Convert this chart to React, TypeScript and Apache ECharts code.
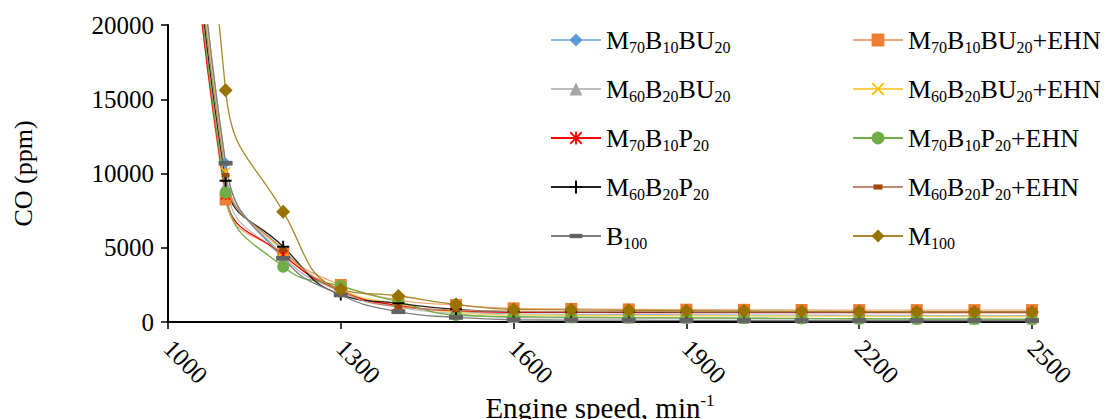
import React, { useEffect, useRef } from 'react';
import * as echarts from 'echarts';

const SPEED = [1000, 1100, 1200, 1300, 1400, 1500, 1600, 1700, 1800, 1900, 2000, 2100, 2200, 2300, 2400, 2500];
const M70B10BU20 = [58000, 10700, 4450, 2150, 1100, 700, 540, 520, 500, 480, 470, 460, 450, 440, 430, 430];
const M70B10BU20_EHN = [54000, 8250, 4600, 2490, 1480, 1140, 920, 880, 850, 830, 820, 810, 800, 800, 800, 800];
const M60B20BU20 = [56000, 9230, 4350, 2050, 1000, 560, 300, 280, 260, 250, 240, 230, 220, 210, 200, 200];
const M60B20BU20_EHN = [58000, 10100, 4730, 2200, 1200, 650, 470, 450, 430, 420, 410, 400, 390, 380, 370, 370];
const M70B10P20 = [53000, 8550, 4510, 2100, 1100, 760, 650, 650, 640, 640, 640, 630, 630, 630, 630, 630];
const M70B10P20_EHN = [54000, 8710, 3720, 2420, 1370, 470, 360, 320, 300, 280, 260, 240, 220, 200, 190, 180];
const M60B20P20 = [55000, 9510, 5070, 1850, 1260, 855, 700, 690, 680, 670, 670, 670, 670, 670, 670, 670];
const M60B20P20_EHN = [56000, 9900, 4850, 2100, 1030, 800, 720, 700, 700, 690, 690, 690, 680, 680, 680, 680];
const B100 = [58000, 10690, 4290, 1820, 695, 315, 150, 130, 120, 110, 100, 100, 100, 100, 100, 100];
const M100 = [85000, 15600, 7430, 2200, 1750, 1190, 850, 820, 790, 760, 740, 720, 700, 690, 680, 680];

const X_MIN = 1000, X_MAX = 2500, X_STEP = 300;
const Y_MIN = 0, Y_MAX = 20000, Y_STEP = 5000;

const FONT = 'Liberation Serif';

const MARK_PLUS = 'path://M4.2,0H5.8V4.2H10V5.8H5.8V10H4.2V5.8H0V4.2H4.2Z';
const MARK_X = 'path://M1,0L5,4L9,0L10,1L6,5L10,9L9,10L5,6L1,10L0,9L4,5L0,1Z';
const MARK_AST = 'path://M1,0L5,4L9,0L10,1L6,5L10,9L9,10L5,6L1,10L0,9L4,5L0,1Z M4.3,0H5.7V10H4.3Z';
const MARK_DASH = 'path://M0,0M10,10M0,3.3H10V6.7H0Z';
const MARK_SMALLDASH = 'path://M0,0M10,10M1.5,3H8.5V7H1.5Z';

type S = { name: string; data: number[]; color: string; line: string; symbol: string; size: number };

const SERIES: S[] = [
  { name: 'M70B10BU20', data: M70B10BU20, color: '#5B9BD5', line: '#8DB8E2', symbol: 'diamond', size: 11 },
  { name: 'M70B10BU20+EHN', data: M70B10BU20_EHN, color: '#ED7D31', line: '#F4A878', symbol: 'rect', size: 12 },
  { name: 'M60B20BU20', data: M60B20BU20, color: '#A5A5A5', line: '#BDBDBD', symbol: 'triangle', size: 11 },
  { name: 'M60B20BU20+EHN', data: M60B20BU20_EHN, color: '#FFC000', line: '#FFCF4D', symbol: MARK_X, size: 10 },
  { name: 'M70B10P20', data: M70B10P20, color: '#FF0000', line: '#FF0000', symbol: MARK_AST, size: 10 },
  { name: 'M70B10P20+EHN', data: M70B10P20_EHN, color: '#70AD47', line: '#70AD47', symbol: 'circle', size: 12 },
  { name: 'M60B20P20', data: M60B20P20, color: '#000000', line: '#222222', symbol: MARK_PLUS, size: 12 },
  { name: 'M60B20P20+EHN', data: M60B20P20_EHN, color: '#9E480E', line: '#C08A6A', symbol: MARK_SMALLDASH, size: 11 },
  { name: 'B100', data: B100, color: '#636363', line: '#7F7F7F', symbol: MARK_DASH, size: 14 },
  { name: 'M100', data: M100, color: '#997300', line: '#A8872A', symbol: 'diamond', size: 14 },
];

function richName(name: string): string {
  return name.replace(/(\d+)|([^\d]+)/g, (m, d) => (d ? `{s|${m}}` : `{n|${m}}`));
}

const legendRich = {
  n: { fontSize: 26, fontFamily: FONT, color: '#000', lineHeight: 30 },
  s: { fontSize: 16, fontFamily: FONT, color: '#000', lineHeight: 28, verticalAlign: 'bottom' as const },
};

function makeLegend(names: string[], left: number) {
  return {
    orient: 'vertical',
    left,
    top: 22,
    itemWidth: 50,
    itemHeight: 16,
    itemGap: 21,
    data: names,
    formatter: (n: string) => richName(n),
    textStyle: { rich: legendRich, fontFamily: FONT, fontSize: 26, color: '#000' },
  };
}

export default function App() {
  const ref = useRef<HTMLDivElement>(null);
  useEffect(() => {
    const chart = echarts.init(ref.current!, null, { renderer: 'svg' });
    const option: any = {
      animation: false,
      backgroundColor: '#fff',
      grid: { left: 168, right: 75, top: 25, bottom: 97, containLabel: false, outerBoundsMode: 'none' },
      legend: [
        makeLegend(SERIES.filter((_, i) => i % 2 === 0).map((s) => s.name), 545),
        makeLegend(SERIES.filter((_, i) => i % 2 === 1).map((s) => s.name), 847),
      ],
      xAxis: {
        type: 'value',
        min: X_MIN,
        max: X_MAX,
        interval: X_STEP,
        name: '{n|Engine speed, min}{sup|-1}',
        nameLocation: 'middle',
        nameGap: 70,
        nameMoveOverlap: false,
        nameTextStyle: {
          rich: {
            n: { fontSize: 29, fontFamily: FONT, color: '#000', lineHeight: 32 },
            sup: { fontSize: 17, fontFamily: FONT, color: '#000', lineHeight: 32, verticalAlign: 'top' },
          },
        },
        axisLine: { lineStyle: { color: '#000', width: 2 } },
        axisTick: { show: true, length: 7, lineStyle: { color: '#000', width: 1.5 } },
        splitLine: { show: false },
        axisLabel: { rotate: -45, fontSize: 25, fontFamily: FONT, color: '#000', margin: 22, formatter: (v: number) => String(v) },
      },
      yAxis: {
        type: 'value',
        min: Y_MIN,
        max: Y_MAX,
        interval: Y_STEP,
        name: 'CO (ppm)',
        nameLocation: 'middle',
        nameGap: 132,
        nameTextStyle: { fontSize: 26, fontFamily: FONT, color: '#000' },
        axisLine: { show: true, lineStyle: { color: '#000', width: 2 } },
        axisTick: { show: true, length: 7, lineStyle: { color: '#000', width: 1.5 } },
        splitLine: { show: false },
        axisLabel: { fontSize: 25, fontFamily: FONT, color: '#000', margin: 14, formatter: (v: number) => String(v) },
      },
      series: SERIES.map((s) => ({
        name: s.name,
        type: 'line',
        smooth: 0.5,
        clip: true,
        data: SPEED.map((x, i) => [x, s.data[i]]),
        symbol: s.symbol,
        symbolSize: s.size,
        showSymbol: true,
        itemStyle: { color: s.color, borderWidth: 0 },
        lineStyle: { color: s.line, width: 1.3 },
      })),
    };
    chart.setOption(option);
    return () => chart.dispose();
  }, []);
  return <div ref={ref} style={{ position: 'fixed', left: 0, top: 0, width: 1107, height: 419 }} />;
}
